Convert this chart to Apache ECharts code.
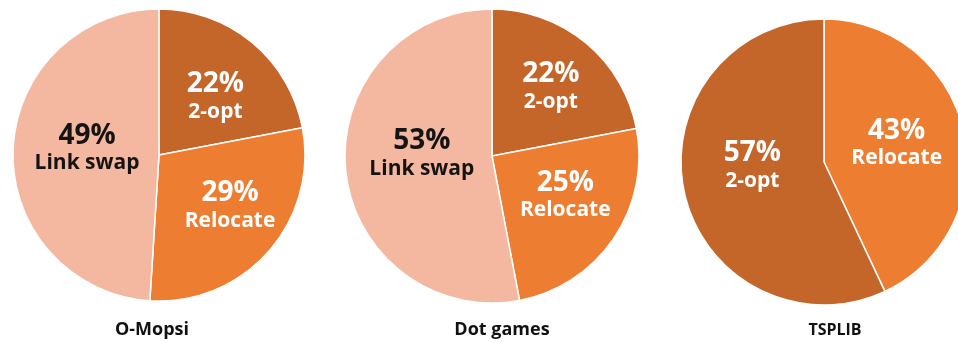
<!DOCTYPE html>
<html>
<head>
<meta charset="utf-8">
<style>
  html, body { margin: 0; padding: 0; background: #ffffff; }
  #chart { width: 958px; height: 343px; }
</style>
<script src="https://cdn.jsdelivr.net/npm/echarts@6/dist/echarts.min.js"></script>
</head>
<body>
<div id="chart"></div>
<script>
// Share of improvements found by each local-search operator, per dataset
const datasets = ['O-Mopsi', 'Dot games', 'TSPLIB'];
const omopsiNames = ['2-opt', 'Relocate', 'Link swap'];
const omopsiValues = [22, 29, 49];
const dotNames = ['2-opt', 'Relocate', 'Link swap'];
const dotValues = [22, 25, 53];
const tspNames = ['Relocate', '2-opt'];
const tspValues = [43, 57];

// Operator colours
const operatorColors = {
  '2-opt': '#C4652A',
  'Relocate': '#ED7D31',
  'Link swap': '#F4B8A0'
};
const operatorText = {
  '2-opt': '#ffffff',
  'Relocate': '#ffffff',
  'Link swap': '#141414'
};

// Pie geometry and label nudges (dx, dy) for each slice
const pieLayout = [
  { center: [159, 155], radius: 146, nudge: [[8, 0], [14, 0], [4, -5]] },
  { center: [492, 156], radius: 147, nudge: [[10, -11], [10, -4], [6, -10]] },
  { center: [824, 162], radius: 143, nudge: [[0, -3], [1, -13]] }
];
const titleLayout = [
  { x: 152, y: 321, size: 18 },
  { x: 502, y: 321, size: 18 },
  { x: 835, y: 322, size: 16 }
];

const seriesNames = [omopsiNames, dotNames, tspNames];
const seriesValues = [omopsiValues, dotValues, tspValues];
const FONT = '"Open Sans", "Noto Sans", sans-serif';

function richFor(color) {
  return {
    v: { color: color, fontFamily: FONT, fontWeight: 'bold', fontSize: 28, lineHeight: 31, align: 'center' },
    n: { color: color, fontFamily: FONT, fontWeight: 'bold', fontSize: 21, lineHeight: 24, align: 'center' }
  };
}

const chart = echarts.init(document.getElementById('chart'), null, { renderer: 'canvas' });

const series = datasets.map((ds, i) => {
  const lay = pieLayout[i];
  return {
    name: ds,
    type: 'pie',
    center: lay.center,
    radius: [0, lay.radius],
    startAngle: 90,
    clockwise: true,
    silent: true,
    animation: false,
    itemStyle: { borderColor: '#ffffff', borderWidth: 1.5 },
    label: {
      show: true,
      position: 'inside',
      formatter: p => '{v|' + p.value + '%}\n{n|' + p.name + '}',
      rich: richFor('#ffffff')
    },
    labelLine: { show: false },
    labelLayout: p => {
      const d = lay.nudge[p.dataIndex];
      return { dx: d[0], dy: d[1] };
    },
    data: seriesNames[i].map((n, k) => ({
      name: n,
      value: seriesValues[i][k],
      itemStyle: { color: operatorColors[n] },
      label: { color: operatorText[n], rich: richFor(operatorText[n]) }
    }))
  };
});

chart.setOption({
  backgroundColor: '#ffffff',
  animation: false,
  title: datasets.map((ds, i) => ({
    text: ds,
    left: titleLayout[i].x,
    top: titleLayout[i].y,
    textAlign: 'center',
    padding: 0,
    textStyle: { fontFamily: FONT, fontWeight: 'bold', fontSize: titleLayout[i].size, color: '#111111' }
  })),
  series: series
});
</script>
</body>
</html>
